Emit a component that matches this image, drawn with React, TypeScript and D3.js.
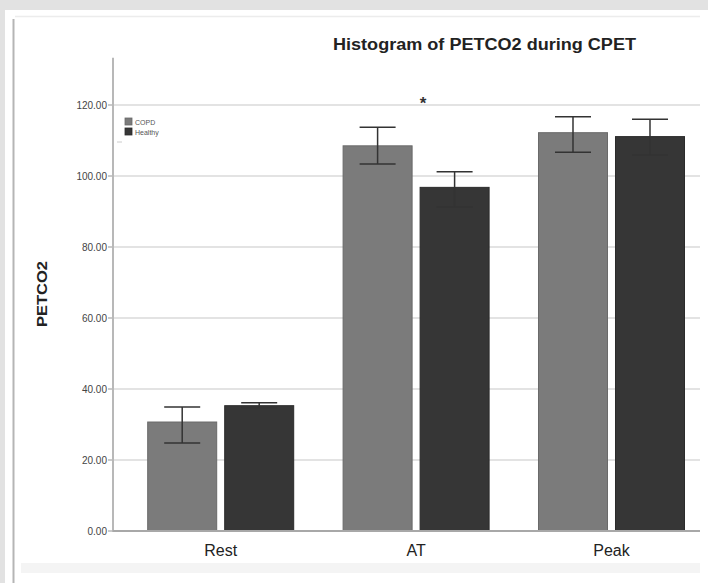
import React from "react";
import * as d3 from "d3";

const categories = ["Rest", "AT", "Peak"];
const seriesNames = ["COPD", "Healthy"];
const copdMeans = [30.7, 108.5, 112.2];
const copdLow = [24.8, 103.4, 106.7];
const copdHigh = [34.9, 113.7, 116.7];
const healthyMeans = [35.3, 96.8, 111.1];
const healthyLow = [34.8, 91.3, 105.9];
const healthyHigh = [36.1, 101.2, 116.0];
const yTicks = [0, 20, 40, 60, 80, 100, 120];

const colors = ["#7b7b7b", "#363636"];
const strokes = ["#6a6a6a", "#2b2b2b"];

export default function App() {
  const W = 708, H = 583;
  const baseY = 531;
  const y = d3.scaleLinear().domain([0, 120]).range([baseY, 105]);
  const x = d3.scaleBand<string>().domain(categories).range([123, 709.2]).padding(0);
  const bw = x.bandwidth();
  const xs = d3.scaleBand<string>().domain(seriesNames).range([bw / 2 - 73, bw / 2 + 73]).paddingInner(8 / 77);
  const means = [copdMeans, healthyMeans];
  const lows = [copdLow, healthyLow];
  const highs = [copdHigh, healthyHigh];
  const font = "'Liberation Sans', Arial, sans-serif";
  const yTop = y(133.3);

  return (
    <svg width={W} height={H} style={{ position: "absolute", left: 0, top: 0, display: "block" }}>
      <rect x={0} y={0} width={W} height={H} fill="#e2e2e2" />
      <rect x={5} y={10} width={W - 5} height={H - 10} fill="#ffffff" />
      <line x1={15} x2={700} y1={16.5} y2={16.5} stroke="#ececec" strokeWidth={1.5} />
      <line x1={13.5} x2={13.5} y1={19} y2={H} stroke="#b5b5b5" strokeWidth={2} />
      <rect x={21} y={563} width={679} height={10} fill="#f4f4f4" />

      {/* gridlines */}
      {yTicks.filter((t) => t > 0).map((t) => (
        <line key={t} x1={113} x2={700} y1={y(t)} y2={y(t)} stroke="#dadada" strokeWidth={1.5} />
      ))}

      {/* bars */}
      {categories.map((c, i) => (
        <g key={c} transform={`translate(${x(c)},0)`}>
          {seriesNames.map((s, j) => {
            const bx = xs(s)!;
            const w = xs.bandwidth();
            const cx = bx + w / 2;
            const v = means[j][i];
            return (
              <g key={s}>
                <rect x={bx} y={y(v)} width={w} height={baseY - y(v)} fill={colors[j]} stroke={strokes[j]} strokeWidth={1} />
                <line x1={cx} x2={cx} y1={y(highs[j][i])} y2={y(lows[j][i])} stroke="#333" strokeWidth={1.5} />
                <line x1={cx - 18} x2={cx + 18} y1={y(highs[j][i])} y2={y(highs[j][i])} stroke="#333" strokeWidth={1.5} />
                <line x1={cx - 18} x2={cx + 18} y1={y(lows[j][i])} y2={y(lows[j][i])} stroke="#333" strokeWidth={1.5} />
              </g>
            );
          })}
        </g>
      ))}

      {/* axes */}
      <line x1={113} x2={113} y1={yTop} y2={baseY} stroke="#b8b8b8" strokeWidth={2} />
      <line x1={112} x2={700} y1={baseY} y2={baseY} stroke="#a8a8a8" strokeWidth={2} />
      {yTicks.map((t) => (
        <g key={t}>
          <line x1={108} x2={113} y1={y(t)} y2={y(t)} stroke="#b8b8b8" strokeWidth={1.5} />
          <text x={107} y={y(t) + 3.5} textAnchor="end" fontSize={10} fill="#444" fontFamily={font}>
            {t.toFixed(2)}
          </text>
        </g>
      ))}
      {categories.map((c) => (
        <text key={c} x={x(c)! + bw / 2} y={556} textAnchor="middle" fontSize={16} fill="#222" fontFamily={font}>
          {c}
        </text>
      ))}

      {/* title and labels */}
      <text x={484.5} y={50} textAnchor="middle" fontSize={16} fontWeight="bold" fill="#222" fontFamily={font}
        textLength={303} lengthAdjust="spacingAndGlyphs">
        Histogram of PETCO2 during CPET
      </text>
      <text transform={`translate(47,294) rotate(-90)`} textAnchor="middle" fontSize={15} fontWeight="bold" fill="#222"
        fontFamily={font} textLength={66} lengthAdjust="spacingAndGlyphs">
        PETCO2
      </text>
      <text x={423} y={109} textAnchor="middle" fontSize={17} fontWeight="bold" fill="#333" fontFamily={font}>*</text>

      {/* legend */}
      {seriesNames.map((s, j) => (
        <g key={s} transform={`translate(125,${118 + j * 10})`}>
          <rect x={0} y={0} width={7} height={7} fill={colors[j]} stroke={strokes[j]} strokeWidth={0.8} />
          <text x={10} y={6.5} fontSize={7} fill="#555" fontFamily={font}>{s}</text>
        </g>
      ))}
      <line x1={117} x2={122} y1={142} y2={142} stroke="#ccc" strokeWidth={1} />
    </svg>
  );
}
